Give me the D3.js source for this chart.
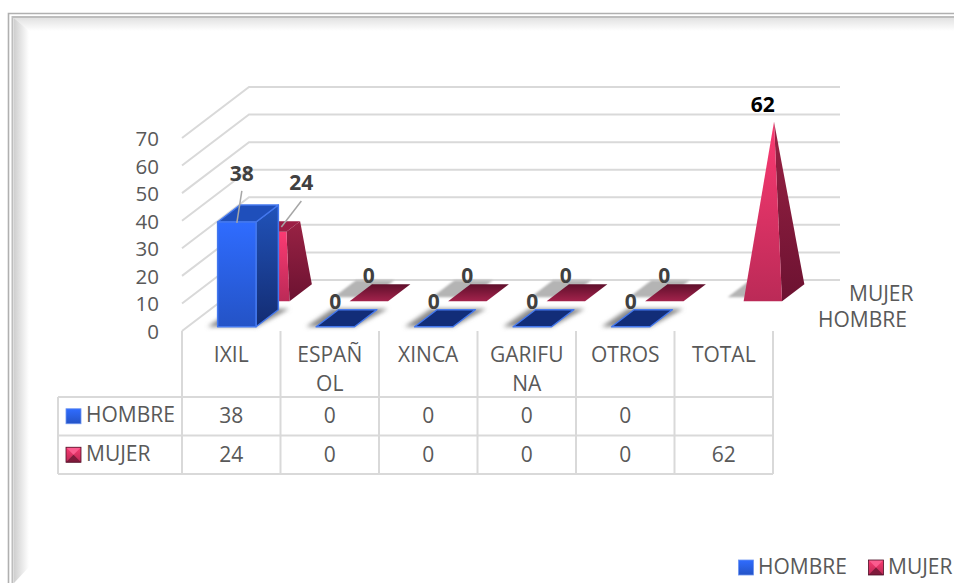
<!DOCTYPE html>
<html>
<head>
<meta charset="utf-8">
<script src="https://cdn.jsdelivr.net/npm/d3@7"></script>
<style>
  html, body { margin: 0; padding: 0; background: #fff; }
  svg { display: block; }
  text { font-family: "Open Sans", sans-serif; fill: #595959; font-size: 21px; }
  .dataLabel { font-size: 21px; font-weight: 700; fill: #404040; text-anchor: middle; }
</style>
</head>
<body>
<div id="chart"></div>
<script>
// chart data
var categories = ["IXIL", "ESPAÑOL", "XINCA", "GARIFUNA", "OTROS", "TOTAL"];
var categoryLines = [["IXIL"], ["ESPAÑ", "OL"], ["XINCA"], ["GARIFU", "NA"], ["OTROS"], ["TOTAL"]];
var seriesNames = ["HOMBRE", "MUJER"];
var hombre = [38, 0, 0, 0, 0, null];
var mujer = [24, 0, 0, 0, 0, 62];
var yTicks = [0, 10, 20, 30, 40, 50, 60, 70];

var width = 954, height = 583;

var svg = d3.select("#chart").append("svg")
    .attr("width", width)
    .attr("height", height);

var defs = svg.append("defs");

function gradient(id, stops, horizontal) {
  var g = defs.append("linearGradient").attr("id", id)
      .attr("x1", 0).attr("y1", 0)
      .attr("x2", horizontal ? 1 : 0).attr("y2", horizontal ? 0 : 1);
  stops.forEach(function(s, i) {
    g.append("stop").attr("offset", i / (stops.length - 1)).attr("stop-color", s);
  });
}

gradient("blueFront", ["#2f6cff", "#2453c6"]);
gradient("blueSide", ["#2153ba", "#132c72"]);
gradient("pinkFront", ["#fb3a72", "#bb2a57"]);
gradient("pinkSide", ["#992244", "#6c1231"]);
gradient("pinkFlat", ["#5f0f2b", "#a3234c"]);
gradient("bevelLeft", ["#cfcfcf", "#ffffff"], true);
gradient("bevelTop", ["#e2e2e2", "#ffffff"]);

function blur(id, amount) {
  defs.append("filter").attr("id", id)
      .attr("x", "-50%").attr("y", "-50%").attr("width", "200%").attr("height", "200%")
    .append("feGaussianBlur").attr("stdDeviation", amount);
}
blur("softBack", 1.2);
blur("softFront", 2);

// scales: x across the categories, depth from the front to the back of the floor
var x = d3.scaleBand().domain(categories).range([182, 773])
    .paddingInner(0.61).paddingOuter(0.305);
var depth = d3.scaleBand().domain(seriesNames).range([0, 1])
    .paddingInner(1 / 3).paddingOuter(1 / 6);
var y = d3.scaleLinear().domain([0, 70]).range([331, 138]);

var skewX = 67, skewY = 51;

function project(px, value, d) {
  return [px + d * skewX, y(value) - d * skewY];
}

function pts(list) {
  return list.map(function(p) { return p.join(","); }).join(" ");
}

function lerp(a, b, t) {
  return [a[0] + (b[0] - a[0]) * t, a[1] + (b[1] - a[1]) * t];
}

function basePoints(i, name) {
  var cat = categories[i], d0 = depth(name), d1 = d0 + depth.bandwidth();
  var x0 = x(cat), x1 = x0 + x.bandwidth();
  return {
    fl: project(x0, 0, d0), fr: project(x1, 0, d0),
    br: project(x1, 0, d1), bl: project(x0, 0, d1)
  };
}

// frame
var frame = svg.append("g").attr("class", "frame");
frame.append("polygon").attr("points", "14,18 954,18 954,31 28,31").attr("fill", "url(#bevelTop)");
frame.append("polygon").attr("points", "14,18 29,31 29,567 14,583").attr("fill", "url(#bevelLeft)");
frame.append("path").attr("d", "M8.5,583V13.5H954").attr("fill", "none").attr("stroke", "#b0b0b0").attr("stroke-width", 1.6);
frame.append("path").attr("d", "M12.5,583V17H954").attr("fill", "none").attr("stroke", "#bdbdbd").attr("stroke-width", 2);

// walls
var grid = svg.append("g").attr("fill", "none").attr("stroke", "#d9d9d9").attr("stroke-width", 2);
yTicks.forEach(function(t) {
  var front = project(x.range()[0], t, 0), back = project(x.range()[0], t, 1);
  grid.append("polyline")
      .attr("points", pts([front, back, [840, back[1]]]));
});

// y axis labels
var yAxis = d3.axisLeft(y).tickValues(yTicks).tickSize(0).tickPadding(0);
svg.append("g")
    .attr("transform", "translate(159,1)")
    .call(yAxis)
    .call(function(g) { g.select(".domain").remove(); })
    .selectAll("text")
    .style("font-size", "20.5px")
    .style("font-family", "'Open Sans', sans-serif")
    .attr("fill", "#595959");

// shadows on the floor
var shadowsBack = svg.append("g").attr("filter", "url(#softBack)");
mujer.forEach(function(v, i) {
  var b = basePoints(i, "MUJER");
  var shift = function(p) { return [p[0] - 16, p[1] - 4]; };
  shadowsBack.append("polygon")
      .attr("points", pts([b.fl, b.fr, b.br, b.bl].map(shift)))
      .attr("fill", "#b4b4b4");
});
var shadowsFront = svg.append("g").attr("filter", "url(#softFront)");
hombre.forEach(function(v, i) {
  if (v === null) return;
  var b = basePoints(i, "HOMBRE");
  var moved = [[b.fl[0] - 10, b.fl[1]], [b.fr[0], b.fr[1]], [b.br[0] + 11, b.br[1] - 1], [b.bl[0] - 6, b.bl[1] - 1]];
  shadowsFront.append("polygon")
      .attr("points", pts(moved))
      .attr("fill", "#8a8a8a");
});

// MUJER: pyramids truncated at their value, the apex sits at the largest value
var mujerMax = d3.max(mujer);
var marksMujer = svg.append("g");
mujer.forEach(function(v, i) {
  var b = basePoints(i, "MUJER");
  if (v === 0) {
    marksMujer.append("polygon")
        .attr("points", pts([b.fl, b.fr, b.br, b.bl]))
        .attr("fill", "url(#pinkFlat)");
    return;
  }
  var cat = categories[i];
  var apex = project(x(cat) + x.bandwidth() / 2, mujerMax, depth("MUJER") + depth.bandwidth() / 2);
  var t = v / mujerMax;
  var tfl = lerp(b.fl, apex, t), tfr = lerp(b.fr, apex, t), tbr = lerp(b.br, apex, t), tbl = lerp(b.bl, apex, t);
  marksMujer.append("polygon").attr("points", pts([b.fr, b.br, tbr, tfr])).attr("fill", "url(#pinkSide)");
  marksMujer.append("polygon").attr("points", pts([b.fl, b.fr, tfr, tfl])).attr("fill", "url(#pinkFront)");
  if (t < 1) {
    marksMujer.append("polygon").attr("points", pts([tfl, tfr, tbr, tbl])).attr("fill", "#9c1f45");
  }
});

// HOMBRE: boxes
var marksHombre = svg.append("g")
    .attr("stroke", "#4478ee").attr("stroke-width", 1.5).attr("stroke-linejoin", "round");
hombre.forEach(function(v, i) {
  if (v === null) return;
  var b = basePoints(i, "HOMBRE");
  if (v === 0) {
    marksHombre.append("polygon")
        .attr("points", pts([b.fl, b.fr, b.br, b.bl]))
        .attr("fill", "#122d78");
    return;
  }
  var up = function(p) { return [p[0], p[1] - (y(0) - y(v))]; };
  var tfl = up(b.fl), tfr = up(b.fr), tbr = up(b.br), tbl = up(b.bl);
  marksHombre.append("polygon").attr("points", pts([b.fr, b.br, tbr, tfr])).attr("fill", "url(#blueSide)");
  marksHombre.append("polygon").attr("points", pts([tfl, tfr, tbr, tbl])).attr("fill", "#1f4fbb");
  marksHombre.append("polygon").attr("points", pts([b.fl, b.fr, tfr, tfl])).attr("fill", "url(#blueFront)");
});

// data labels, centred over the front face of each mark
var labels = svg.append("g");
function labelAnchor(v, i, name) {
  return project(x(categories[i]) + x.bandwidth() / 2, v, depth(name));
}
function addLabel(v, i, name, dx, dy) {
  var p = labelAnchor(v, i, name);
  labels.append("text").attr("class", "dataLabel")
      .attr("x", p[0] + dx).attr("y", p[1] + dy + 7)
      .style("fill", v === mujerMax ? "#000" : null)
      .text(v);
}
hombre.forEach(function(v, i) {
  if (v === null) return;
  if (v === 0) addLabel(v, i, "HOMBRE", 0, -25);
  else addLabel(v, i, "HOMBRE", 5, -48);
});
mujer.forEach(function(v, i) {
  if (v === 0) addLabel(v, i, "MUJER", 0, -25);
  else if (v === mujerMax) addLabel(v, i, "MUJER", 0, -25);
  else addLabel(v, i, "MUJER", 31, -52);
});

// leader lines for the first column
var l0 = labelAnchor(hombre[0], 0, "HOMBRE");
var l1 = labelAnchor(mujer[0], 0, "MUJER");
labels.append("line").attr("x1", l0[0] + 5).attr("y1", l0[1] - 31).attr("x2", l0[0]).attr("y2", l0[1] + 1)
    .attr("stroke", "#a6a6a6").attr("stroke-width", 1.5);
labels.append("line").attr("x1", l1[0] + 31).attr("y1", l1[1] - 34).attr("x2", l1[0] + 11).attr("y2", l1[1] - 8)
    .attr("stroke", "#a6a6a6").attr("stroke-width", 1.5);

// depth axis names
svg.append("text").attr("x", 849).attr("y", 301).text(seriesNames[1]);
svg.append("text").attr("x", 818).attr("y", 327).text(seriesNames[0]);

// data table
var table = svg.append("g");
var rowY = [331, 397, 435.5, 474];
var colLeft = 58, colFirst = x.range()[0], colLast = x.range()[1], colStep = x.step();
var tableLines = table.append("g").attr("stroke", "#d9d9d9").attr("stroke-width", 2);
rowY.slice(1).forEach(function(ry) {
  tableLines.append("line").attr("x1", colLeft).attr("x2", colLast).attr("y1", ry).attr("y2", ry);
});
tableLines.append("line").attr("x1", colLeft).attr("x2", colLeft).attr("y1", rowY[1]).attr("y2", rowY[3]);
d3.range(categories.length + 1).forEach(function(i) {
  var cx = colFirst + i * colStep;
  tableLines.append("line").attr("x1", cx).attr("x2", cx).attr("y1", rowY[0]).attr("y2", rowY[3]);
});

categories.forEach(function(c, i) {
  var cx = x(c) + x.bandwidth() / 2;
  categoryLines[i].forEach(function(line, k) {
    table.append("text").attr("x", cx).attr("y", 362 + k * 29)
        .attr("text-anchor", "middle").text(line);
  });
  [hombre, mujer].forEach(function(series, r) {
    if (series[i] === null) return;
    table.append("text").attr("x", cx).attr("y", (rowY[r + 1] + rowY[r + 2]) / 2 + 7)
        .attr("text-anchor", "middle").text(series[i]);
  });
});

// legend keys
function swatch(g, name, sx, sy, s) {
  if (name === "HOMBRE") {
    g.append("rect").attr("x", sx).attr("y", sy).attr("width", s).attr("height", s)
        .attr("fill", "url(#blueFront)").attr("stroke", "#6d94f0").attr("stroke-width", 0.8);
  } else {
    var c = [sx + s / 2, sy + s / 2];
    g.append("rect").attr("x", sx).attr("y", sy).attr("width", s).attr("height", s).attr("fill", "url(#pinkFront)");
    g.append("polygon").attr("points", pts([[sx, sy], [sx + s, sy], c])).attr("fill", "#fb5c8f");
    g.append("polygon").attr("points", pts([[sx, sy + s], [sx + s, sy + s], c])).attr("fill", "#7f1a3b");
    g.append("rect").attr("x", sx).attr("y", sy).attr("width", s).attr("height", s)
        .attr("fill", "none").attr("stroke", "#4d0f26").attr("stroke-width", 0.8);
  }
}

seriesNames.forEach(function(name, r) {
  var ty = (rowY[r + 1] + rowY[r + 2]) / 2;
  swatch(table, name, 66, ty - 7.5, 15);
  table.append("text").attr("x", 86).attr("y", ty + 6).text(name);
});

// legend at the bottom
var legend = svg.append("g");
swatch(legend, "HOMBRE", 738.5, 560, 15);
legend.append("text").attr("x", 758).attr("y", 574).text("HOMBRE");
swatch(legend, "MUJER", 868.5, 560, 15);
legend.append("text").attr("x", 888).attr("y", 574).text("MUJER");
</script>
</body>
</html>
